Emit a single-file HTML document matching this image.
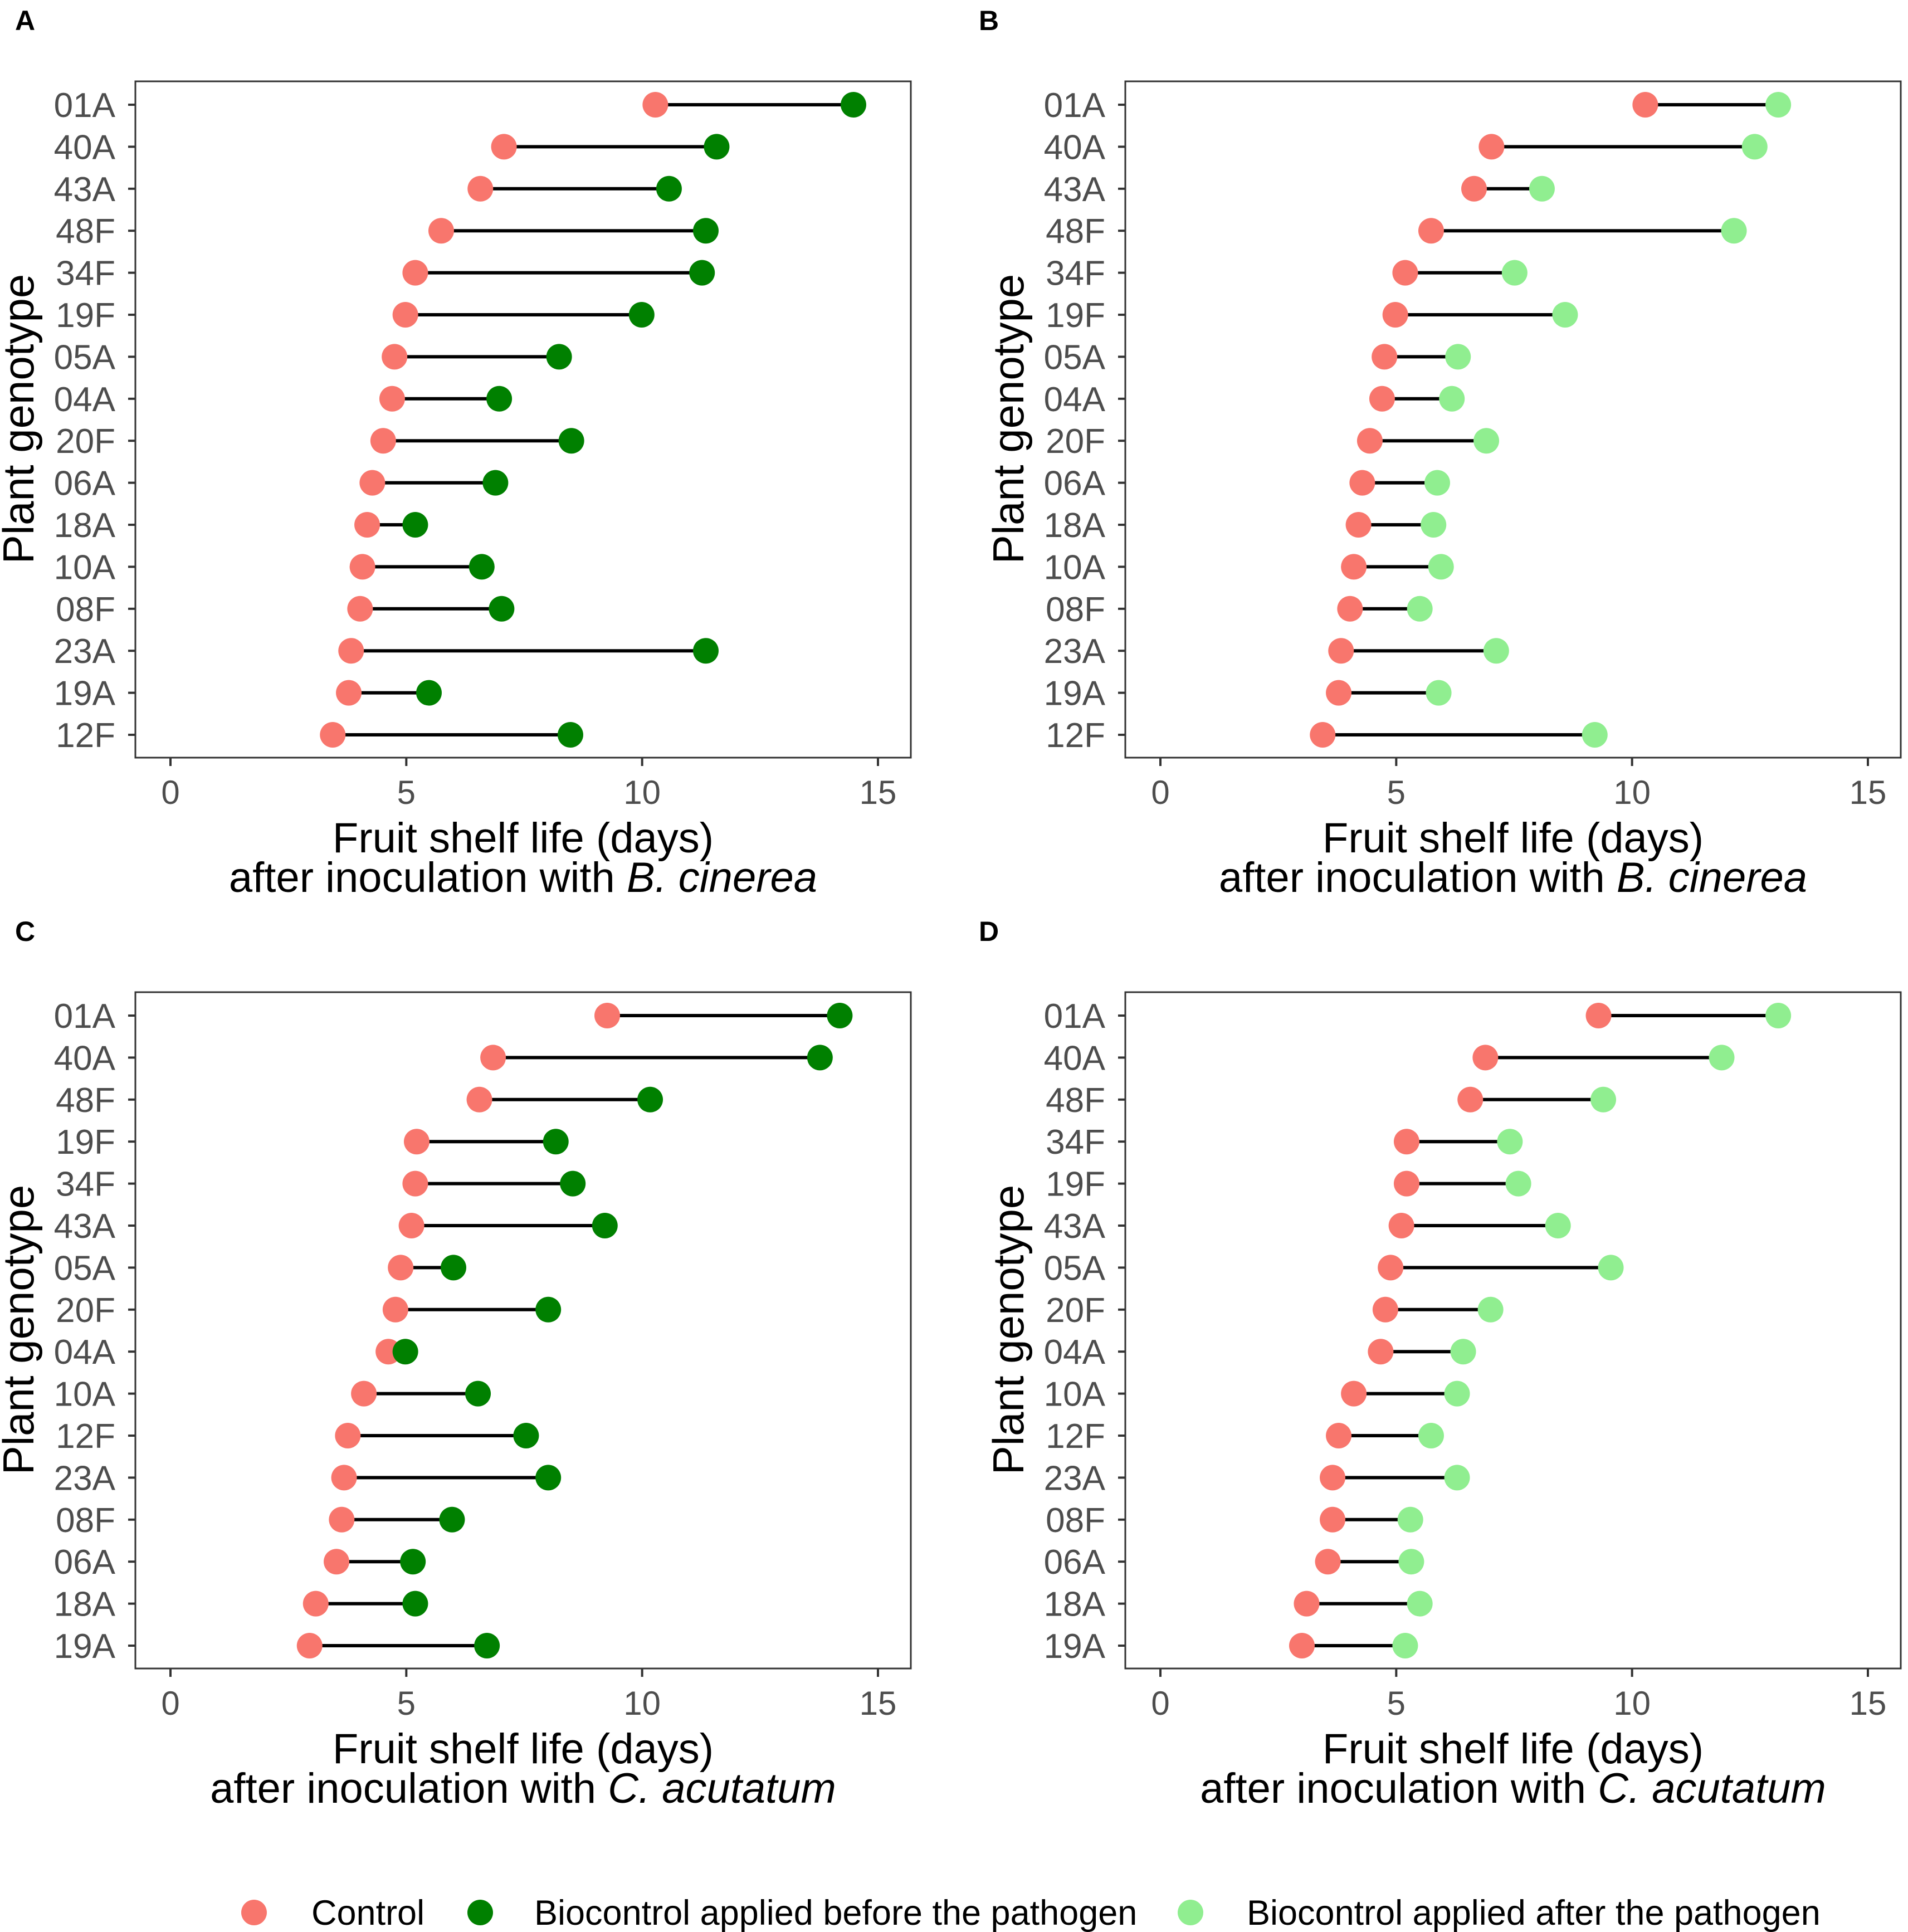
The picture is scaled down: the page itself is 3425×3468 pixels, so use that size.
<!DOCTYPE html>
<html><head><meta charset="utf-8"><style>
html,body{margin:0;padding:0;background:#fff;}
svg{display:block;font-family:"Liberation Sans",Arial,sans-serif;}
</style></head><body>
<svg id="fig" width="3425" height="3468" viewBox="0 0 3425 3468"></svg>
<script>
const NS="http://www.w3.org/2000/svg";
const svg=document.getElementById('fig');
const genotypesA=["01A","40A","43A","48F","34F","19F","05A","04A","20F","06A","18A","10A","08F","23A","19A","12F"];
const controlA=[10.28,7.07,6.57,5.74,5.19,4.98,4.75,4.70,4.51,4.28,4.17,4.07,4.02,3.83,3.78,3.44];
const bioA=[14.48,11.58,10.57,11.35,11.27,9.99,8.24,6.97,8.5,6.89,5.19,6.6,7.02,11.35,5.48,8.48];
const genotypesB=["01A","40A","43A","48F","34F","19F","05A","04A","20F","06A","18A","10A","08F","23A","19A","12F"];
const controlB=[10.28,7.02,6.65,5.74,5.19,4.98,4.75,4.70,4.44,4.28,4.2,4.1,4.02,3.83,3.78,3.44];
const bioB=[13.1,12.6,8.09,12.16,7.51,8.58,6.31,6.18,6.91,5.87,5.79,5.95,5.5,7.12,5.9,9.21];
const genotypesC=["01A","40A","48F","19F","34F","43A","05A","20F","04A","10A","12F","23A","08F","06A","18A","19A"];
const controlC=[9.26,6.84,6.55,5.22,5.19,5.11,4.88,4.77,4.62,4.1,3.76,3.68,3.63,3.52,3.08,2.95];
const bioC=[14.19,13.77,10.17,8.17,8.53,9.21,6.0,8.01,4.98,6.52,7.54,8.01,5.97,5.14,5.19,6.71];
const genotypesD=["01A","40A","48F","34F","19F","43A","05A","20F","04A","10A","12F","23A","08F","06A","18A","19A"];
const controlD=[9.29,6.89,6.57,5.22,5.22,5.11,4.88,4.77,4.67,4.1,3.78,3.65,3.65,3.55,3.1,3.0];
const bioD=[13.1,11.9,9.39,7.41,7.59,8.43,9.55,7.0,6.42,6.29,5.74,6.29,5.3,5.32,5.5,5.19];
const xTicks=[0,5,10,15];

function el(tag,attrs,parent,text){const e=document.createElementNS(NS,tag);for(const k in attrs)e.setAttribute(k,attrs[k]);if(text!==undefined)e.textContent=text;(parent||svg).appendChild(e);return e;}

function panel(letter,ox,oy,labelX,genos,ctrl,bio,bioColor,pathogen){
  const g=el('g',{transform:`translate(${ox},${oy})`});
  
  
  const x=v=>306+v*(1576-306)/15;
  const y=i=>188+i*(1319-188)/(genos.length-1);
  const lab=el('text',{x:labelX,y:54,'font-size':50,'font-weight':'bold',fill:'#000'},g,letter);
  
  
  const box=el('rect',{x:243,y:146,width:1392,height:1214,fill:'none',stroke:'#333',"stroke-width":3},g);
  
  
  genos.forEach((name,i)=>{
    const yy=y(i);
    el('line',{x1:230,x2:243,y1:yy,y2:yy,stroke:'#333','stroke-width':4},g);
    const t=el('text',{x:207,y:yy+22,'font-size':62,'text-anchor':'end',fill:'#4d4d4d'},g,name);
    
    
    const ln=el('line',{x1:x(ctrl[i]),x2:x(bio[i]),y1:yy,y2:yy,stroke:'#000','stroke-width':6},g);
    
    
    const c1=el('circle',{cx:x(ctrl[i]),cy:yy,r:23,fill:'#f8766d'},g);
    
    
    const c2=el('circle',{cx:x(bio[i]),cy:yy,r:23,fill:bioColor},g);
    
    
  });
  xTicks.forEach(v=>{
    el('line',{x1:x(v),x2:x(v),y1:1360,y2:1375,stroke:'#333','stroke-width':4},g);
    const t=el('text',{x:x(v),y:1443,'font-size':60,'text-anchor':'middle',fill:'#4d4d4d'},g,String(v));
    
    
  });
  const xt=el('text',{x:939,y:1530,'font-size':76,'text-anchor':'middle',fill:'#000'},g);
  
  
  el('tspan',{x:939},xt,'Fruit shelf life (days)');
  el('tspan',{x:939,dy:71},xt,'after inoculation with ');
  el('tspan',{'font-style':'italic'},xt,pathogen);
  const yt=el('text',{x:0,y:0,'font-size':78,'text-anchor':'middle',fill:'#000',transform:'translate(60,752) rotate(-90)'},g,'Plant genotype');
  
  
}
panel('A',0,0,27,genotypesA,controlA,bioA,'#008000','B. cinerea');
panel('B',1777,0,-20,genotypesB,controlB,bioB,'#90ee90','B. cinerea');
panel('C',0,1635,27,genotypesC,controlC,bioC,'#008000','C. acutatum');
panel('D',1777,1635,-20,genotypesD,controlD,bioD,'#90ee90','C. acutatum');

const legendLabels=["Control","Biocontrol applied before the pathogen","Biocontrol applied after the pathogen"];
const legendColors=["#f8766d","#008000","#90ee90"];
const lg=el('g',{});


const lcx=[456,862,2137], ltx=[559,959,2238];
legendLabels.forEach((l,i)=>{
  const c=el('circle',{cx:lcx[i],cy:3433,r:23,fill:legendColors[i]},lg);
  
  
  const t=el('text',{x:ltx[i],y:3455,'font-size':63,fill:'#000'},lg,l);
  
  
});
</script>
</body></html>
